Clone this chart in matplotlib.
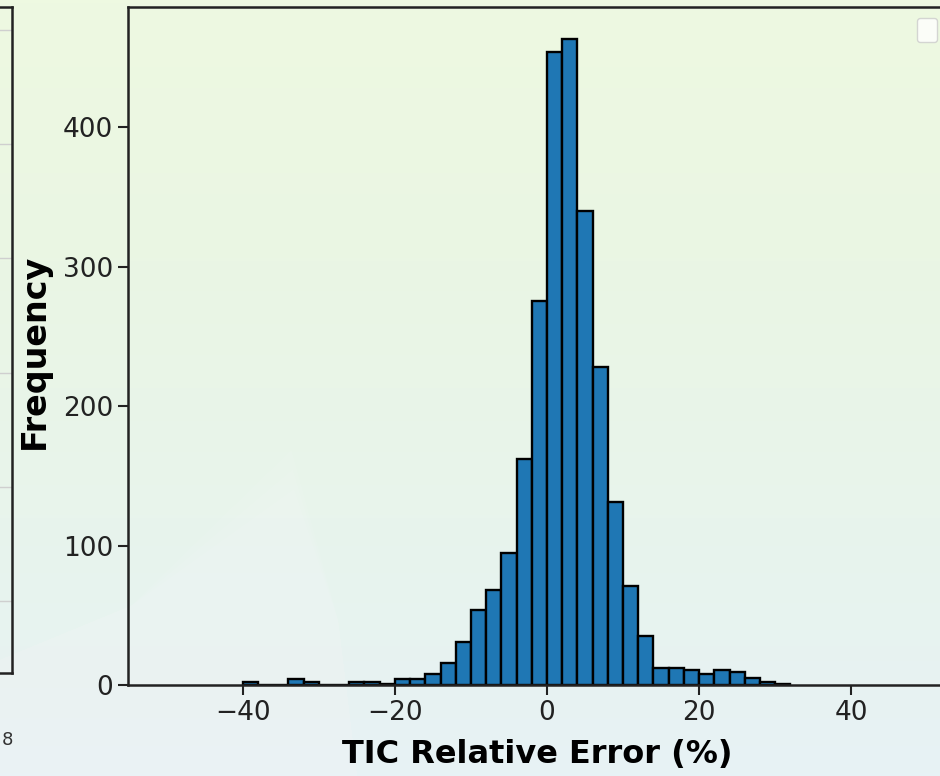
import numpy as np
import matplotlib
matplotlib.use("Agg")
import matplotlib.pyplot as plt
from matplotlib.colors import LinearSegmentedColormap
from matplotlib.lines import Line2D

# ---- data ----
bin_lefts = [-40, -38, -36, -34, -32, -30, -28, -26, -24, -22, -20, -18, -16, -14,
             -12, -10, -8, -6, -4, -2, 0, 2, 4, 6, 8, 10, 12, 14, 16, 18, 20, 22,
             24, 26, 28, 30]
counts = [2, 0, 0, 4, 2, 0, 0, 2, 2, 1, 4, 4, 8, 16,
          31, 54, 68, 95, 162, 275, 454, 463, 340, 228, 131, 71, 35, 12, 12, 11, 8, 11,
          9, 5, 2, 1]
bin_width = 2
x_ticks = [-40, -20, 0, 20, 40]
y_ticks = [0, 100, 200, 300, 400]
xlabel = "TIC Relative Error (%)"
ylabel = "Frequency"

W, H = 940, 776
fig = plt.figure(figsize=(W / 100, H / 100), dpi=100)

# background gradient
bg = fig.add_axes([0, 0, 1, 1], zorder=-10)
cmap = LinearSegmentedColormap.from_list("bg", ["#eef9e1", "#eaf6e4", "#e8f4ec", "#e7f2f5"])
grad = np.linspace(0, 1, 256).reshape(-1, 1)
bg.imshow(grad, aspect="auto", cmap=cmap, extent=[0, 1, 0, 1], origin="upper")
for k, a in enumerate([0.07, 0.07, 0.07]):
    s = 1 - 0.06 * k
    bg.fill([0.0, 0.0, 0.14, 0.31 * s + 0.02 * k, 0.36, 0.38],
            [0.0, 0.15, 0.22, 0.42 * s, 0.2, 0.0],
            color="white", alpha=a, lw=0)
bg.set_xlim(0, 1); bg.set_ylim(0, 1)
bg.axis("off")

# partial neighbouring subplot on the left
axl = fig.add_axes([-0.30, (H - 673) / H, (0.30 * W + 12) / W, 666 / H])
axl.patch.set_alpha(0)
axl.set_ylim(-0.63, 5.2)
axl.set_yticks([0, 1, 2, 3, 4, 5])
axl.set_yticklabels([])
axl.set_xticks([])
axl.grid(axis="y", color="#cfcfcf", lw=1)
for s in axl.spines.values():
    s.set_linewidth(1.8)
    s.set_color("#222222")
fig.text(7 / W, 1 - 740 / H, "8", fontsize=13, ha="center", va="center", color="#333333")

# main histogram
ax = fig.add_axes([128 / W, (H - 685) / H, 819 / W, 678 / H])
ax.patch.set_alpha(0)
edges = list(bin_lefts) + [bin_lefts[-1] + bin_width]
ax.hist(bin_lefts, bins=edges, weights=counts, color="#1f77b4",
        edgecolor="black", linewidth=1.7)
ax.set_xlim(-55.1, 52.6)
ax.set_ylim(0, max(counts) * 1.05)
ax.set_xticks(x_ticks)
ax.set_yticks(y_ticks)
ax.tick_params(labelsize=19, length=7, width=1.5, color="#222222", labelcolor="#222222")
ax.set_xlabel(xlabel, fontsize=23, fontweight="bold")
ax.xaxis.set_label_coords(0.5, -(755 - 685) / 678)
ax.xaxis.label.set_va("center")
ax.set_ylabel(ylabel, fontsize=24, fontweight="bold")
ax.yaxis.set_label_coords((34 - 128) / 819, (685 - 351) / 678)
ax.yaxis.label.set_va("center")
for s in ax.spines.values():
    s.set_linewidth(1.8)
    s.set_color("#222222")
ax.legend(handles=[Line2D([], [], alpha=0)], labels=[" "], loc="upper right",
          bbox_to_anchor=(937 / W, 1 - 18 / H), bbox_transform=fig.transFigure,
          borderaxespad=0, handlelength=0.4, handletextpad=0, fontsize=10,
          borderpad=0.36, framealpha=0.8, edgecolor="#cccccc")

fig.savefig("out.png", dpi=100)
